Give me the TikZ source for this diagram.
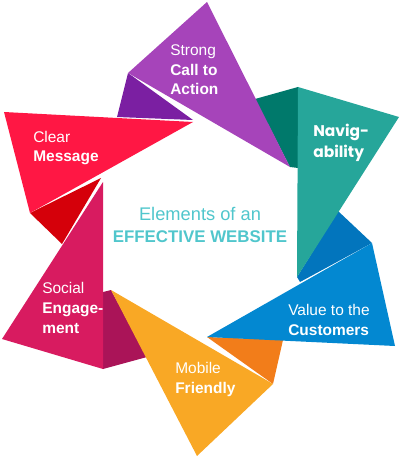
\documentclass[tikz,border=0pt]{standalone}
\usepackage{fontspec}
\setmainfont{Liberation Sans}
\newfontfamily\navfont{Poppins}
\definecolor{purpleL}{RGB}{166,68,186}
\definecolor{purpleD}{RGB}{123,31,162}
\definecolor{tealL}{RGB}{38,166,154}
\definecolor{tealD}{RGB}{0,121,107}
\definecolor{blueL}{RGB}{3,136,209}
\definecolor{blueD}{RGB}{2,117,189}
\definecolor{orangeL}{RGB}{249,168,37}
\definecolor{orangeD}{RGB}{242,125,26}
\definecolor{crimsonL}{RGB}{216,27,96}
\definecolor{crimsonD}{RGB}{170,20,88}
\definecolor{redL}{RGB}{255,23,68}
\definecolor{redD}{RGB}{213,0,10}
\definecolor{titlecol}{RGB}{80,198,204}
\tikzset{
  elemlabel/.style={text=white, anchor=base west, inner sep=0pt, align=left,
    font=\fontsize{11}{14}\selectfont},
  titlelabel/.style={text=titlecol, anchor=base, inner sep=0pt},
}

\begin{document}
\begin{tikzpicture}[x=0.025cm,y=-0.025cm]
  \useasboundingbox (0,0) rectangle (400,458);
  % folds
  \foreach \col/\p in {
    purpleD/{(128,73) -- (117,117) -- (193,120)},
    tealD/{(255,99) -- (298,87) -- (298,168) -- (290,167)},
    blueD/{(338,211) -- (372,243) -- (300,282) -- (297,277)},
    orangeD/{(207,337) -- (283,340) -- (273,384)},
    crimsonD/{(103,292) -- (111,290) -- (147,357) -- (103,369)},
    redD/{(101,178) -- (30,213) -- (62,244)}}
    \fill[\col] \p -- cycle;
  % wings
  \foreach \col/\p in {
    purpleL/{(207,2) -- (128,73) -- (290,167)},
    tealL/{(298,87) -- (399,117) -- (297,277)},
    blueL/{(372,243) -- (395,346) -- (207,337)},
    orangeL/{(111,290) -- (273,384) -- (197,456)},
    crimsonL/{(103,182) -- (2,339) -- (103,369)},
    redL/{(4,112) -- (193,122) -- (30,213)}}
    \fill[\col] \p -- cycle;

  % labels (base = last line)
  \node[elemlabel] (action) at (170,95) {Strong\\\textbf{Call to}\\\textbf{Action}};
  \node[elemlabel, font=\navfont\bfseries\fontsize{11}{15}\selectfont] (navig) at (313,158) {Navig-\\ability};
  \node[elemlabel] (value) at (288,335) {Value to the\\\textbf{Customers}};
  \node[elemlabel] (mobile) at (175,393) {Mobile\\\textbf{Friendly}};
  \node[elemlabel] (social) at (42,333) {Social\\\textbf{Engage-}\\\textbf{ment}};
  \node[elemlabel] (clear) at (33,162) {Clear\\\textbf{Message}};

  \node[titlelabel, font=\fontsize{13}{15}\selectfont] (title1) at (200,220) {Elements of an};
  \node[titlelabel, font=\bfseries\fontsize{12}{14}\selectfont] (title2) at (200,242) {EFFECTIVE WEBSITE};
\end{tikzpicture}
\end{document}
